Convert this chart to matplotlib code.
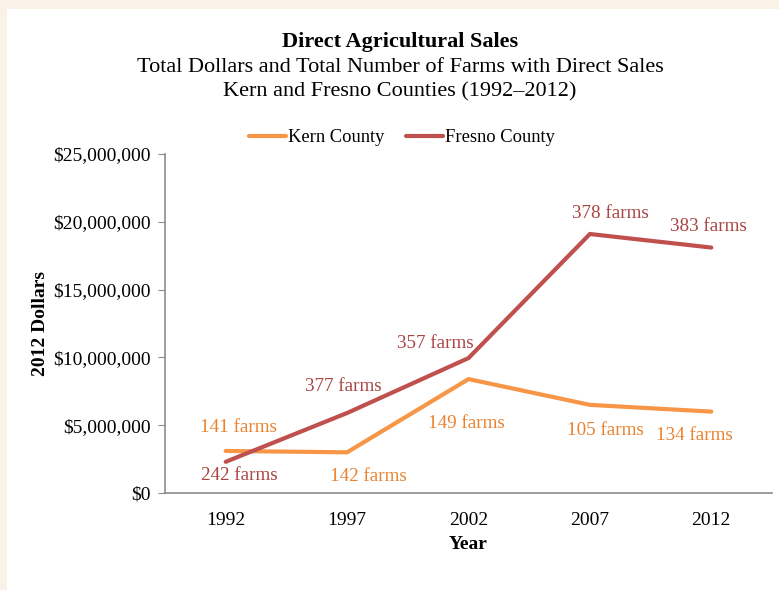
import matplotlib.pyplot as plt
from matplotlib.patches import Rectangle
from matplotlib.ticker import FuncFormatter

# -----------------------------
# Data
# -----------------------------
years = ["1992", "1997", "2002", "2007", "2012"]

kern_sales = [3.1e6, 3.0e6, 8.4e6, 6.5e6, 6.0e6]
fresno_sales = [2.3e6, 5.9e6, 9.95e6, 19.1e6, 18.1e6]

kern_farms = [141, 142, 149, 105, 134]
fresno_farms = [242, 377, 357, 378, 383]

# label offsets from each point, pixels (dx, dy)
kern_offsets = [(13, 23), (21, -24), (-2, -44), (16, -26), (-17, -24)]
fresno_offsets = [(14, -14), (-4, 26), (-33, 15), (21, 21), (-3, 21)]

kern_color = "#F79646"
fresno_color = "#C0504D"
kern_text = "#EA832F"
fresno_text = "#A94542"

plt.rcParams["font.family"] = ["Liberation Serif", "DejaVu Serif"]

W, H = 779, 590
fig = plt.figure(figsize=(W / 100, H / 100), dpi=100)
fig.patch.set_facecolor("white")

# cream frame on the top and left edge
cream = "#FBF2E7"
fig.patches.append(Rectangle((0, 0), 7 / W, 1, transform=fig.transFigure,
                             facecolor=cream, edgecolor="none", zorder=0))
fig.patches.append(Rectangle((0, 1 - 9 / H), 1, 9 / H, transform=fig.transFigure,
                             facecolor=cream, edgecolor="none", zorder=0))

ax = fig.add_axes([165 / W, 97 / H, 607 / W, 339 / H])

x = list(range(len(years)))
ax.plot(x, kern_sales, color=kern_color, lw=3, label="Kern County",
        solid_capstyle="round", solid_joinstyle="miter")
ax.plot(x, fresno_sales, color=fresno_color, lw=3, label="Fresno County",
        solid_capstyle="round", solid_joinstyle="miter")

for xi, yi, n, off in zip(x, kern_sales, kern_farms, kern_offsets):
    ax.annotate(f"{n} farms", (xi, yi), xytext=off, textcoords="offset pixels",
                ha="center", va="center", color=kern_text, fontsize=13.8)
for xi, yi, n, off in zip(x, fresno_sales, fresno_farms, fresno_offsets):
    ax.annotate(f"{n} farms", (xi, yi), xytext=off, textcoords="offset pixels",
                ha="center", va="center", color=fresno_text, fontsize=13.8)

ax.set_xlim(-0.5, 4.5)
ax.set_ylim(0, 25e6)
ax.set_yticks([0, 5e6, 10e6, 15e6, 20e6, 25e6])
ax.yaxis.set_major_formatter(FuncFormatter(lambda v, p: f"${v:,.0f}"))
ax.set_xticks(x)
ax.set_xticklabels(years)

for s in ["top", "right"]:
    ax.spines[s].set_visible(False)
for s in ["left", "bottom"]:
    ax.spines[s].set_color("#8C8C8C")
    ax.spines[s].set_linewidth(1.2)

ax.tick_params(axis="y", length=5, color="#8C8C8C", labelsize=14, pad=5)
ax.tick_params(axis="x", length=0, labelsize=14, pad=14)

ax.set_xlabel("Year", fontweight="bold", fontsize=14, labelpad=5)
ax.set_ylabel("2012 Dollars", fontweight="bold", fontsize=14, labelpad=3)

fig.text(400 / W, 1 - 42 / H, "Direct Agricultural Sales", ha="center", va="center",
         fontweight="bold", fontsize=16)
fig.text(400 / W, 1 - 67 / H, "Total Dollars and Total Number of Farms with Direct Sales",
         ha="center", va="center", fontsize=16)
fig.text(400 / W, 1 - 92 / H, "Kern and Fresno Counties (1992\u20132012)",
         ha="center", va="center", fontsize=16)

fig.legend(loc="center", bbox_to_anchor=(402 / W, 1 - 138 / H), ncol=2, frameon=False,
           fontsize=13.3, handlelength=2.0, handletextpad=0.1, columnspacing=1.2)

fig.savefig("out.png", dpi=100)
